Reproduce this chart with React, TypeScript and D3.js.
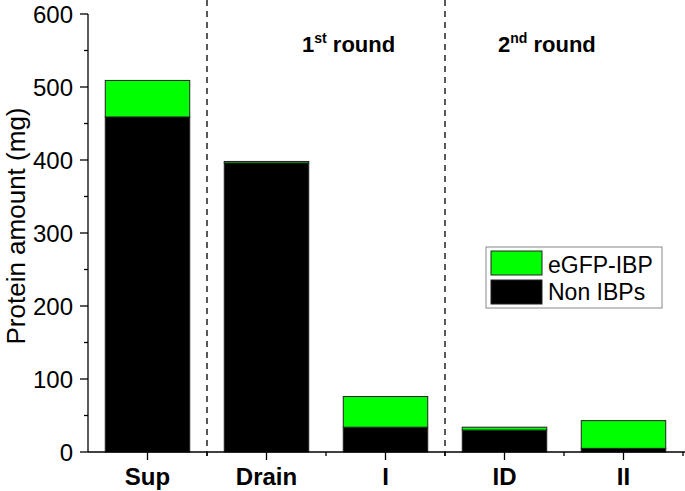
import React from 'react';
import * as d3 from 'd3';

// categories and stacked values (mg)
const categories = ['Sup', 'Drain', 'I', 'ID', 'II'];
const nonIBPs = [459, 396, 34, 30, 5];
const eGFPIBP = [50, 2, 42, 4, 38];
const yTicks = [0, 100, 200, 300, 400, 500, 600];
const yMinorTicks = [50, 150, 250, 350, 450, 550];
const roundLabels = [
  { num: '1', sup: 'st', x: 302 },
  { num: '2', sup: 'nd', x: 498 },
];

const W = 685, H = 491;
const left = 88, top = 14, bottom = 452, right = 683;
const font = 'Liberation Sans, Arial, sans-serif';

export default function App() {
  const x = d3.scaleBand().domain(categories).range([left, right]).paddingInner(0.29).paddingOuter(0.145);
  const y = d3.scaleLinear().domain([0, 600]).range([bottom, top]);
  const step = x.step();
  const bw = x.bandwidth();
  const center = (c: string) => (x(c) as number) + bw / 2;

  // boundaries between categories (minor ticks)
  const bounds = categories.map((c) => center(c) + step / 2);
  const dividers = [center('Sup') + step / 2, center('I') + step / 2];

  const stack = categories.map((c, i) => ({ c, non: nonIBPs[i], gfp: eGFPIBP[i] }));

  return (
    <svg width={W} height={H} style={{ position: 'absolute', left: 0, top: 0 }} fontFamily={font}>
      <rect width={W} height={H} fill="#fff" />
      {/* dashed dividers */}
      {dividers.map((d, i) => (
        <line key={i} x1={d} x2={d} y1={0} y2={bottom + 4} stroke="#000" strokeWidth={1.3} strokeDasharray="6,5" />
      ))}
      {/* bars */}
      {stack.map((s) => (
        <g key={s.c}>
          <rect x={x(s.c)} y={y(s.non)} width={bw} height={y(0) - y(s.non)} fill="#000" stroke="#222" strokeWidth={1} />
          <rect x={x(s.c)} y={y(s.non + s.gfp)} width={bw} height={y(s.non) - y(s.non + s.gfp)} fill="#00ff00" stroke="#222" strokeWidth={1} />
        </g>
      ))}
      {/* y axis */}
      <line x1={left} x2={left} y1={top} y2={bottom} stroke="#000" strokeWidth={1.3} />
      {yTicks.map((t) => (
        <g key={t}>
          <line x1={left - 8} x2={left} y1={y(t)} y2={y(t)} stroke="#000" strokeWidth={1.3} />
          <text x={left - 15} y={y(t)} dy="0.36em" textAnchor="end" fontSize={24}>{t}</text>
        </g>
      ))}
      {yMinorTicks.map((t) => (
        <line key={t} x1={left - 4} x2={left} y1={y(t)} y2={y(t)} stroke="#000" strokeWidth={1.3} />
      ))}
      <text transform={`translate(16,226) rotate(-90)`} textAnchor="middle" dy="0.35em" fontSize={26}>
        Protein amount (mg)
      </text>
      {/* x axis */}
      <line x1={left} x2={W} y1={bottom} y2={bottom} stroke="#000" strokeWidth={1.3} />
      {categories.map((c) => (
        <g key={c}>
          <line x1={center(c)} x2={center(c)} y1={bottom} y2={bottom + 8} stroke="#000" strokeWidth={1.3} />
          <text x={center(c)} y={485} textAnchor="middle" fontSize={24} fontWeight="bold">{c}</text>
        </g>
      ))}
      {bounds.map((b, i) => (
        <line key={i} x1={b} x2={b} y1={bottom} y2={bottom + 4} stroke="#000" strokeWidth={1.3} />
      ))}
      {/* round labels */}
      {roundLabels.map((r, i) => (
        <text key={i} x={r.x} y={52} fontSize={22} fontWeight="bold">
          {r.num}
          <tspan fontSize={14} dy={-9}>{r.sup}</tspan>
          <tspan dy={9}> round</tspan>
        </text>
      ))}
      {/* legend */}
      <g transform="translate(486,247)">
        <rect width={176} height={61} fill="#fff" stroke="#888" strokeWidth={1} />
        <rect x={5} y={4} width={51} height={24} fill="#00ff00" stroke="#222" strokeWidth={1} />
        <rect x={5} y={33} width={51} height={24} fill="#000" stroke="#222" strokeWidth={1} />
        <text x={62} y={26} fontSize={23}>eGFP-IBP</text>
        <text x={62} y={53} fontSize={23}>Non IBPs</text>
      </g>
    </svg>
  );
}
